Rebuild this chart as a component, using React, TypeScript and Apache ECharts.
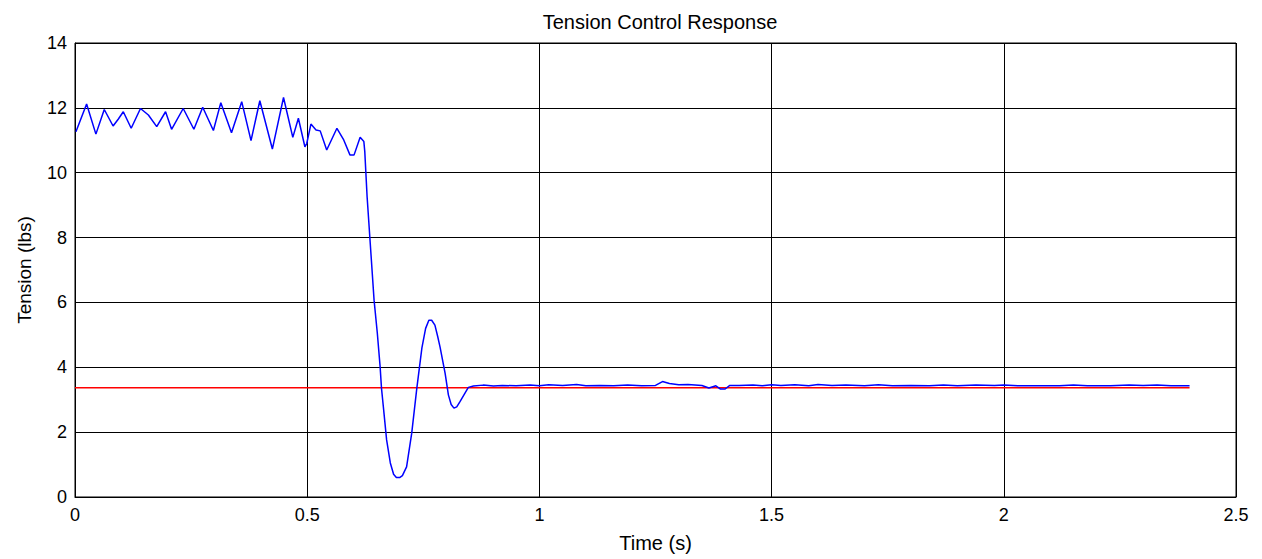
import React, { useEffect, useRef } from "react";
import * as echarts from "echarts";

const chartTitle = "Tension Control Response";
const xAxisName = "Time (s)";
const yAxisName = "Tension (lbs)";

const tensionTimes: number[] = [
  0.002, 0.025, 0.045, 0.063, 0.082, 0.093, 0.104, 0.121, 0.141, 0.158,
  0.176, 0.195, 0.208, 0.233, 0.256, 0.275, 0.298, 0.314, 0.337, 0.359,
  0.379, 0.398, 0.425, 0.449, 0.469, 0.481, 0.495, 0.499, 0.508, 0.519,
  0.528, 0.542, 0.564, 0.578, 0.592, 0.601, 0.614, 0.622, 0.624, 0.629,
  0.644, 0.651, 0.657, 0.66, 0.664, 0.671, 0.679, 0.686, 0.692, 0.699,
  0.705, 0.714, 0.725, 0.736, 0.747, 0.755, 0.762, 0.768, 0.775, 0.781,
  0.786, 0.797, 0.804, 0.81, 0.816, 0.822, 0.829, 0.847, 0.858, 0.879,
  0.901, 0.92, 0.95, 0.98, 1.0, 1.02, 1.05, 1.08,
  1.1, 1.13, 1.16, 1.19, 1.22, 1.25, 1.265, 1.28, 1.3, 1.32,
  1.35, 1.365, 1.38, 1.39, 1.4, 1.41, 1.43, 1.46, 1.48, 1.5,
  1.52, 1.55, 1.58, 1.6, 1.63, 1.66, 1.7, 1.73, 1.76, 1.8,
  1.84, 1.87, 1.9, 1.94, 1.98, 2.0, 2.03, 2.08, 2.12, 2.15,
  2.18, 2.23, 2.27, 2.3, 2.33, 2.36, 2.4,
];

const tensionValues: number[] = [
  11.26, 12.12, 11.19, 11.95, 11.44, 11.65, 11.88, 11.37, 11.98, 11.78,
  11.42, 11.88, 11.34, 11.98, 11.34, 12.02, 11.3, 12.16, 11.23, 12.19,
  10.99, 12.22, 10.73, 12.32, 11.09, 11.68, 10.8, 10.9, 11.5, 11.32,
  11.29, 10.7, 11.37, 11.03, 10.55, 10.55, 11.09, 10.96, 10.65, 9.26,
  6.07, 5.05, 4.02, 3.35, 2.78, 1.76, 1.05, 0.7, 0.6, 0.6,
  0.66, 0.93, 1.96, 3.35, 4.6, 5.2, 5.45, 5.45, 5.3, 4.95,
  4.63, 3.81, 3.15, 2.85, 2.74, 2.78, 2.94, 3.38, 3.42, 3.45,
  3.42, 3.44, 3.43, 3.45, 3.43, 3.46, 3.44, 3.47,
  3.43, 3.44, 3.43, 3.45, 3.43, 3.44, 3.56, 3.5, 3.46, 3.47,
  3.44, 3.36, 3.43, 3.33, 3.33, 3.44, 3.44, 3.45, 3.43, 3.46,
  3.44, 3.46, 3.43, 3.47, 3.44, 3.45, 3.43, 3.46, 3.43, 3.44,
  3.43, 3.45, 3.43, 3.45, 3.44, 3.45, 3.43, 3.43, 3.43, 3.45,
  3.43, 3.43, 3.45, 3.44, 3.45, 3.43, 3.43,
];

const referenceTimes: number[] = [0, 2.4];
const referenceValues: number[] = [3.37, 3.37];

const xTicks = { min: 0, max: 2.5, interval: 0.5 };
const yTicks = { min: 0, max: 14, interval: 2 };

export default function App() {
  const ref = useRef<HTMLDivElement>(null);

  useEffect(() => {
    document.body.style.margin = "0";
    if (!ref.current) return;
    const chart = echarts.init(ref.current, undefined, { renderer: "svg" });
    const font = "Arial, 'Liberation Sans', sans-serif";
    chart.setOption({
      animation: false,
      backgroundColor: "#ffffff",
      title: {
        text: chartTitle,
        left: 655,
        top: 7,
        textAlign: "center",
        textStyle: { fontFamily: font, fontSize: 20, fontWeight: "normal", color: "#000" },
      },
      grid: {
        left: 75,
        right: 26,
        top: 43,
        bottom: 62,
        show: true,
        borderColor: "#000",
        borderWidth: 1,
        backgroundColor: "#fff",
      },
      xAxis: {
        type: "value",
        min: xTicks.min,
        max: xTicks.max,
        interval: xTicks.interval,
        name: xAxisName,
        nameLocation: "middle",
        nameGap: 36,
        nameTextStyle: { fontFamily: font, fontSize: 20, color: "#000" },
        axisLine: { show: true, lineStyle: { color: "#000", width: 1 } },
        axisTick: { show: false },
        axisLabel: { fontFamily: font, fontSize: 18, color: "#000", margin: 9 },
        splitLine: { show: true, lineStyle: { color: "#000", width: 1 } },
      },
      yAxis: {
        type: "value",
        min: yTicks.min,
        max: yTicks.max,
        interval: yTicks.interval,
        name: yAxisName,
        nameLocation: "middle",
        nameGap: 41,
        nameTextStyle: { fontFamily: font, fontSize: 19, color: "#000" },
        axisLine: { show: true, lineStyle: { color: "#000", width: 1 } },
        axisTick: { show: false },
        axisLabel: { fontFamily: font, fontSize: 18, color: "#000", margin: 8 },
        splitLine: { show: true, lineStyle: { color: "#000", width: 1 } },
      },
      series: [
        {
          name: "Reference",
          type: "line",
          data: referenceTimes.map((t, i) => [t, referenceValues[i]]),
          showSymbol: false,
          lineStyle: { color: "#ff0000", width: 1.5 },
          z: 2,
        },
        {
          name: "Tension",
          type: "line",
          data: tensionTimes.map((t, i) => [t, tensionValues[i]]),
          showSymbol: false,
          lineStyle: { color: "#0000ff", width: 1.5 },
          z: 3,
        },
      ],
    });
    return () => chart.dispose();
  }, []);

  return <div ref={ref} style={{ width: 1262, height: 559 }} />;
}
